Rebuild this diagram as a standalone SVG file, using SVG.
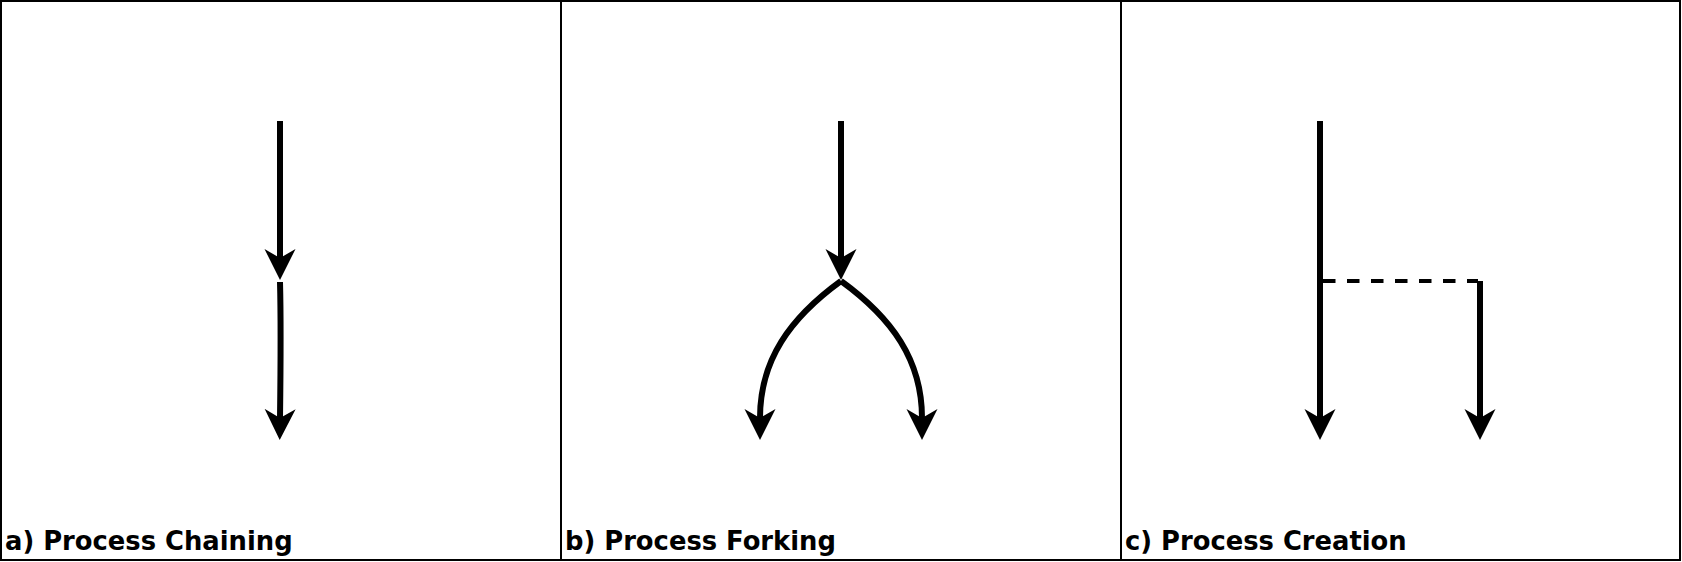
<svg xmlns="http://www.w3.org/2000/svg" width="1682" height="562" viewBox="0 0 1682 562">
<style>
.panel{fill:#fff;stroke:#000;stroke-width:2}
.lbl{font-family:"DejaVu Sans",sans-serif;font-weight:bold;font-size:25.8px;fill:#000}
.flow{fill:none;stroke:#000;stroke-width:6}
.dash{fill:none;stroke:#000;stroke-width:4;stroke-dasharray:12.5 11.5}
</style>
<defs>
<marker id="ah" markerUnits="userSpaceOnUse" markerWidth="32" markerHeight="32" viewBox="0 0 32 32" refX="9" refY="16" orient="auto">
<path d="M31,16 L0,0.5 L9,16 L0,31.5 Z" fill="#000"/>
</marker>
</defs>
<g id="panel-a">
<rect class="panel" x="1" y="1" width="560" height="559"/>
<text class="lbl" x="5" y="550">a) Process Chaining</text>
</g>
<g id="panel-b">
<rect class="panel" x="561" y="1" width="560" height="559"/>
<text class="lbl" x="565" y="550">b) Process Forking</text>
</g>
<g id="panel-c">
<rect class="panel" x="1121" y="1" width="559" height="559"/>
<text class="lbl" x="1125" y="550">c) Process Creation</text>
</g>
<g id="connectors">
<path class="flow" d="M280,121 L280,258" marker-end="url(#ah)"/>
<path class="flow" d="M280,282 C281,320 281,340 280,418" marker-end="url(#ah)"/>
<path class="flow" d="M841,121 L841,258" marker-end="url(#ah)"/>
<path class="flow" d="M841,281 C790,318 760,360 760,418" marker-end="url(#ah)"/>
<path class="flow" d="M841,281 C892,318 922,360 922,418" marker-end="url(#ah)"/>
<path class="flow" d="M1320,121 L1320,418" marker-end="url(#ah)"/>
<path class="dash" d="M1323,281 L1478,281"/>
<path class="flow" d="M1480,281 L1480,418" marker-end="url(#ah)"/>
</g>
</svg>
